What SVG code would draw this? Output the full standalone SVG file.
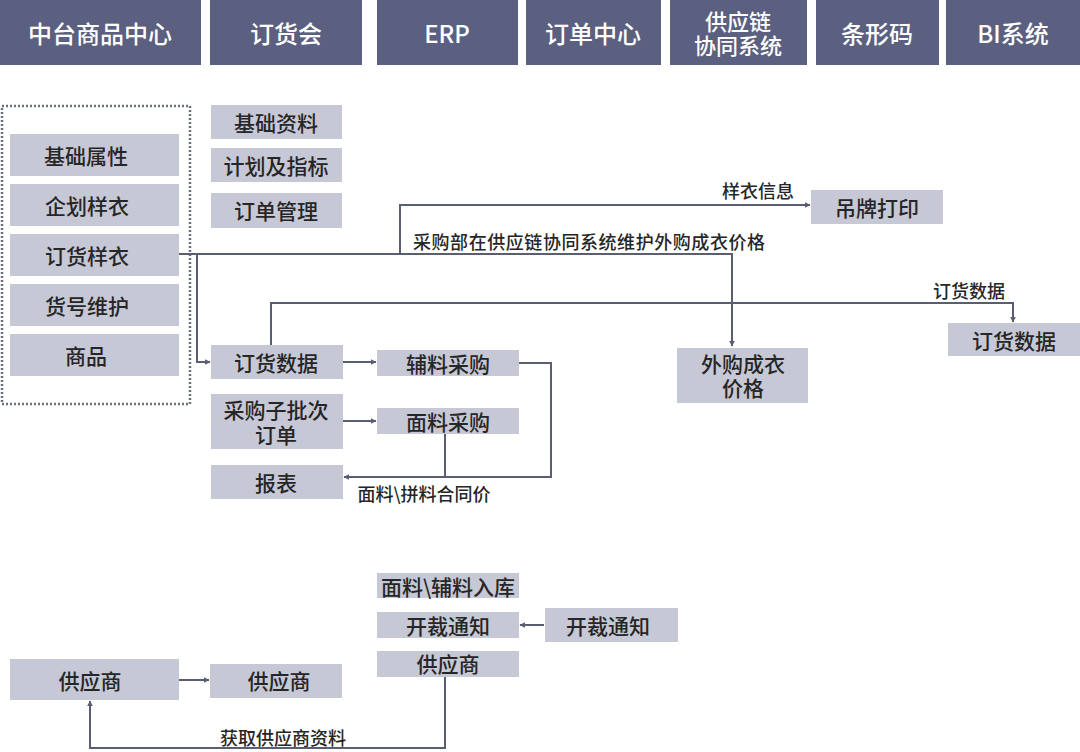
<svg xmlns="http://www.w3.org/2000/svg" width="1080" height="752" viewBox="0 0 1080 752">
<style>
.hd{fill:#5b6080}
.hdt{fill:#ffffff;font-family:"Noto Sans CJK SC","Noto Sans",sans-serif;font-size:24px;font-weight:500;text-anchor:middle;dominant-baseline:central}
.hdt2{font-size:22px}
.nd{fill:#c6c8d5}
.ndt{fill:#262626;font-family:"Noto Sans CJK SC","Noto Sans",sans-serif;font-size:21px;font-weight:500;text-anchor:middle;dominant-baseline:central}
.lb{fill:#262626;font-family:"Noto Sans CJK SC","Noto Sans",sans-serif;font-size:18px;font-weight:500;text-anchor:middle;dominant-baseline:central}
.cn{fill:none;stroke:#5a5e72;stroke-width:2}
.ar{marker-end:url(#ah)}
</style>
<defs>
<marker id="ah" viewBox="0 0 10 10" refX="9" refY="5" markerWidth="6" markerHeight="6" markerUnits="userSpaceOnUse" orient="auto">
<path d="M0,0 L10,5 L0,10 Z" fill="#5a5e72"/>
</marker>
</defs>
<rect width="1080" height="752" fill="#ffffff"/>

<g id="header">
<g id="h1"><rect class="hd" x="0" y="0" width="201" height="65"/><text class="hdt" x="100" y="32">中台商品中心</text></g>
<g id="h2"><rect class="hd" x="210" y="0" width="152" height="65"/><text class="hdt" x="286" y="32">订货会</text></g>
<g id="h3"><rect class="hd" x="377" y="0" width="141" height="65"/><text class="hdt" x="447" y="32">ERP</text></g>
<g id="h4"><rect class="hd" x="526" y="0" width="135" height="65"/><text class="hdt" x="593" y="32">订单中心</text></g>
<g id="h5"><rect class="hd" x="670" y="0" width="137" height="65"/><text class="hdt hdt2"><tspan x="738" y="20">供应链</tspan><tspan x="738" y="44">协同系统</tspan></text></g>
<g id="h6"><rect class="hd" x="816" y="0" width="123" height="65"/><text class="hdt" x="877" y="32">条形码</text></g>
<g id="h7"><rect class="hd" x="946" y="0" width="134" height="65"/><text class="hdt" x="1013" y="32">BI系统</text></g>
</g>

<g id="group-box"><rect x="2" y="106" width="188" height="298" fill="none" stroke="#6a6e82" stroke-width="2.5" stroke-dasharray="2 2"/></g>

<g id="n-jcsx"><rect class="nd" x="10" y="134" width="169" height="42"/><text class="ndt" x="86" y="155">基础属性</text></g>
<g id="n-qhyy"><rect class="nd" x="10" y="184" width="169" height="42"/><text class="ndt" x="87" y="205">企划样衣</text></g>
<g id="n-dhyy"><rect class="nd" x="10" y="234" width="169" height="42"/><text class="ndt" x="87" y="255">订货样衣</text></g>
<g id="n-hhwh"><rect class="nd" x="10" y="284" width="169" height="42"/><text class="ndt" x="87" y="305">货号维护</text></g>
<g id="n-sp"><rect class="nd" x="10" y="334" width="169" height="42"/><text class="ndt" x="86" y="355">商品</text></g>

<g id="n-jczl"><rect class="nd" x="211" y="105" width="131" height="34"/><text class="ndt" x="276" y="122">基础资料</text></g>
<g id="n-jhzb"><rect class="nd" x="211" y="148" width="131" height="34"/><text class="ndt" x="276" y="165">计划及指标</text></g>
<g id="n-ddgl"><rect class="nd" x="211" y="193" width="131" height="35"/><text class="ndt" x="276" y="210">订单管理</text></g>

<g id="n-dhsj"><rect class="nd" x="211" y="345" width="132" height="34"/><text class="ndt" x="276" y="362">订货数据</text></g>
<g id="n-cgzpc"><rect class="nd" x="211" y="394" width="132" height="55"/><text class="ndt"><tspan x="276" y="409">采购子批次</tspan><tspan x="276" y="434">订单</tspan></text></g>
<g id="n-bb"><rect class="nd" x="211" y="465" width="132" height="34"/><text class="ndt" x="276" y="482">报表</text></g>

<g id="n-flcg"><rect class="nd" x="377" y="350" width="142" height="26"/><text class="ndt" x="448" y="363">辅料采购</text></g>
<g id="n-mlcg"><rect class="nd" x="377" y="408" width="142" height="26"/><text class="ndt" x="448" y="421">面料采购</text></g>

<g id="n-dpdy"><rect class="nd" x="811" y="190" width="132" height="34"/><text class="ndt" x="877" y="207">吊牌打印</text></g>
<g id="n-wgcy"><rect class="nd" x="677" y="348" width="131" height="55"/><text class="ndt"><tspan x="743" y="363">外购成衣</tspan><tspan x="743" y="387">价格</tspan></text></g>
<g id="n-dhsj2"><rect class="nd" x="948" y="323" width="132" height="33"/><text class="ndt" x="1014" y="340">订货数据</text></g>

<g id="n-rk"><rect class="nd" x="377" y="573" width="142" height="25"/><text class="ndt" x="448" y="586">面料\辅料入库</text></g>
<g id="n-kc1"><rect class="nd" x="377" y="612" width="142" height="26"/><text class="ndt" x="448" y="625">开裁通知</text></g>
<g id="n-kc2"><rect class="nd" x="545" y="608" width="133" height="34"/><text class="ndt" x="608" y="625">开裁通知</text></g>
<g id="n-gys3"><rect class="nd" x="377" y="651" width="142" height="26"/><text class="ndt" x="448" y="663">供应商</text></g>
<g id="n-gys1"><rect class="nd" x="10" y="659" width="169" height="41"/><text class="ndt" x="90" y="680">供应商</text></g>
<g id="n-gys2"><rect class="nd" x="210" y="664" width="132" height="34"/><text class="ndt" x="279" y="680">供应商</text></g>

<g id="connectors">
<path class="cn ar" d="M179 254 H732 V346"/>
<path class="cn ar" d="M400 254 V205 H810"/>
<path class="cn ar" d="M197 254 V362 H210"/>
<path class="cn ar" d="M271 345 V303 H1013 V322"/>
<path class="cn ar" d="M343 362 H376"/>
<path class="cn ar" d="M343 421 H376"/>
<path class="cn ar" d="M519 363 H551 V477 H344"/>
<path class="cn" d="M445 434 V477"/>
<path class="cn ar" d="M544 625 H520"/>
<path class="cn ar" d="M179 680 H209"/>
<path class="cn ar" d="M445 677 V748 H90 V701"/>
<text class="lb" x="758" y="190">样衣信息</text>
<text class="lb" x="589" y="241" textLength="352" lengthAdjust="spacing">采购部在供应链协同系统维护外购成衣价格</text>
<text class="lb" x="969" y="290">订货数据</text>
<text class="lb" x="424" y="493">面料\拼料合同价</text>
<text class="lb" x="283" y="737">获取供应商资料</text>
</g>
</svg>
